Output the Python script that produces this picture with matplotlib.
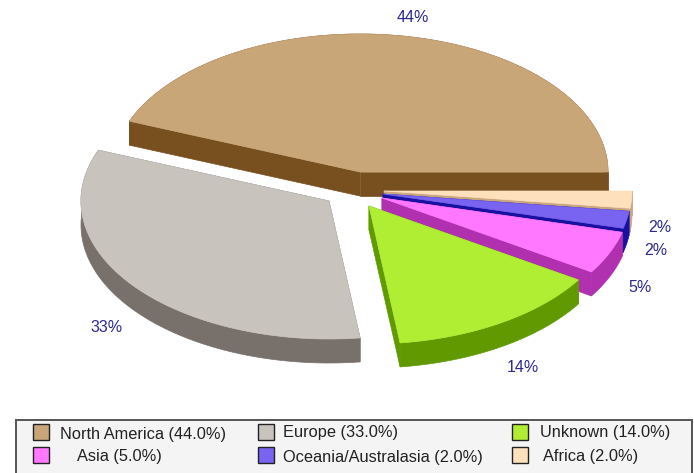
import numpy as np
import matplotlib
matplotlib.use("Agg")
import matplotlib.pyplot as plt
from matplotlib.patches import Polygon, Rectangle

categories = ["North America", "Europe", "Unknown", "Asia", "Oceania/Australasia", "Africa"]
values = [44, 33, 14, 5, 2, 2]

top_colors = ["#C8A678", "#C9C3BD", "#AFEE33", "#FF78FF", "#7864F0", "#FFE0BC"]
side_colors = ["#785020", "#78706A", "#609A00", "#B030B0", "#1810A0", "#C8A680"]
apexes = [(360, 172), (329, 201), (369, 206), (382, 198), (383, 194), (384, 191)]
label_pos = [(413, 17), (107, 327), (523, 367), (640, 287), (660, 227), (656, 250)]
legend_swatch = [(33, 432), (258, 432), (512, 432), (33, 455), (258, 455), (512, 455)]
legend_text_x = [60, 283, 540, 77, 283, 543]
legend_text_y = [434, 432, 432, 456, 457, 456]

RX, RY, DEPTH = 248, 138, 24
TEXT = "#2B2A8C"

plt.rcParams["font.family"] = ["Liberation Sans", "DejaVu Sans"]
fig = plt.figure(figsize=(6.94, 4.73), dpi=100)
ax = fig.add_axes([0, 0, 1, 1])
ax.set_xlim(0, 694)
ax.set_ylim(473, 0)
ax.axis("off")

fracs = np.array(values) / sum(values) * 360
ends = np.cumsum(fracs)
starts = ends - fracs
paint_order = [0, 5, 4, 3, 2, 1]

for i in paint_order:
    cx, cy = apexes[i]
    th = np.radians(np.linspace(starts[i], ends[i], max(int(fracs[i] * 2), 8)))
    ax_x = cx + RX * np.cos(th)
    ax_y = cy - RY * np.sin(th)
    side = dict(closed=True, fc=side_colors[i], ec=side_colors[i], lw=0.5)
    # outer wall as one polygon
    wall = np.r_[np.c_[ax_x, ax_y], np.c_[ax_x, ax_y + DEPTH][::-1]]
    ax.add_patch(Polygon(wall, **side))
    # the two straight faces
    for ex, ey in ((ax_x[0], ax_y[0]), (ax_x[-1], ax_y[-1])):
        ax.add_patch(Polygon([(cx, cy), (ex, ey), (ex, ey + DEPTH), (cx, cy + DEPTH)], **side))
    ax.add_patch(Polygon(np.c_[np.r_[cx, ax_x], np.r_[cy, ax_y]], closed=True,
                         fc=top_colors[i], ec=top_colors[i], lw=0.5))

for v, (x, y) in zip(values, label_pos):
    ax.text(x, y, f"{v}%", color=TEXT, fontsize=11.5, ha="center", va="center")

ax.add_patch(Rectangle((16, 420), 676, 60, fc="#F4F4F4", ec="#555555", lw=1.4))
for i, c in enumerate(categories):
    sx, sy = legend_swatch[i]
    ax.add_patch(Rectangle((sx, sy - 8), 16, 16, fc=top_colors[i], ec="#222222", lw=1.0))
    ax.text(legend_text_x[i], legend_text_y[i], f"{c} ({values[i]:.1f}%)", color="#222222",
            fontsize=11.8, ha="left", va="center")

fig.savefig("out.png", dpi=100, facecolor="white")
